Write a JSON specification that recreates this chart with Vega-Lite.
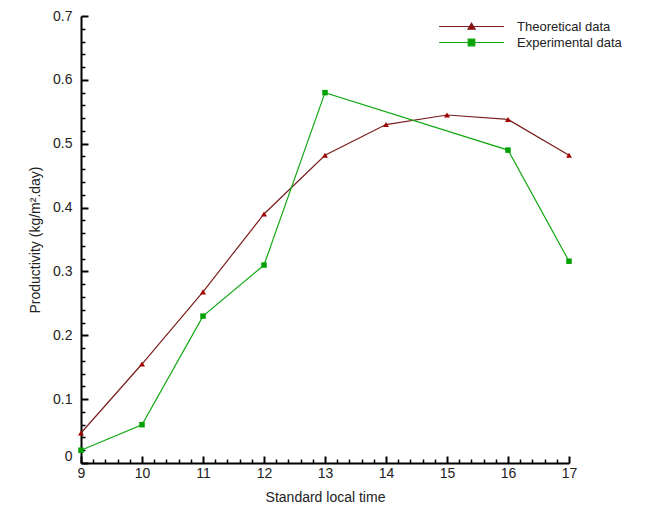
{
  "$schema": "https://vega.github.io/schema/vega-lite/v6.json",
  "width": 488,
  "height": 447,
  "autosize": {"type": "none"},
  "padding": {"left": 81, "top": 16, "right": 76, "bottom": 50},
  "background": "white",
  "config": {
    "view": {"stroke": null},
    "font": "Liberation Sans"
  },
  "data": {
    "values": [
      {"time": 9, "value": 0.047, "series": "Theoretical data"},
      {"time": 10, "value": 0.155, "series": "Theoretical data"},
      {"time": 11, "value": 0.268, "series": "Theoretical data"},
      {"time": 12, "value": 0.39, "series": "Theoretical data"},
      {"time": 13, "value": 0.482, "series": "Theoretical data"},
      {"time": 14, "value": 0.53, "series": "Theoretical data"},
      {"time": 15, "value": 0.545, "series": "Theoretical data"},
      {"time": 16, "value": 0.538, "series": "Theoretical data"},
      {"time": 17, "value": 0.482, "series": "Theoretical data"},
      {"time": 9, "value": 0.02, "series": "Experimental data"},
      {"time": 10, "value": 0.06, "series": "Experimental data"},
      {"time": 11, "value": 0.23, "series": "Experimental data"},
      {"time": 12, "value": 0.31, "series": "Experimental data"},
      {"time": 13, "value": 0.58, "series": "Experimental data"},
      {"time": 16, "value": 0.49, "series": "Experimental data"},
      {"time": 17, "value": 0.316, "series": "Experimental data"}
    ]
  },
  "resolve": {"axis": {"x": "independent", "y": "independent"}},
  "layer": [
    {
      "mark": {"type": "line", "strokeWidth": 1.2},
      "encoding": {
        "x": {
          "field": "time", "type": "quantitative",
          "scale": {"domain": [9, 17], "nice": false, "zero": false},
          "axis": {
            "orient": "bottom",
            "title": "Standard local time",
            "titleFont": "Liberation Sans", "titleFontSize": 14, "titleFontWeight": "normal", "titleColor": "#222",
            "titlePadding": 10,
            "values": [9, 10, 11, 12, 13, 14, 15, 16, 17],
            "format": "d",
            "labelFontSize": 14, "labelColor": "#222", "labelFlush": false,
            "grid": false, "ticks": false,
            "domainColor": "black", "domainWidth": 2,
            "labelPadding": 3
          }
        },
        "y": {
          "field": "value", "type": "quantitative",
          "scale": {"domain": [0, 0.7], "nice": false},
          "axis": {
            "orient": "left",
            "title": "Productivity (kg/m².day)",
            "titleFont": "Liberation Sans", "titleFontSize": 14, "titleFontWeight": "normal", "titleColor": "#222",
            "titlePadding": 10,
            "values": [0, 0.1, 0.2, 0.3, 0.4, 0.5, 0.6, 0.7],
            "labelExpr": "datum.value === 0 ? '0' : format(datum.value, '.1f')",
            "labelFontSize": 14, "labelColor": "#222", "labelFlush": false,
            "labelBaseline": {"condition": {"test": "datum.value === 0", "value": "bottom"}, "value": "middle"},
            "grid": false, "ticks": false,
            "domainColor": "black", "domainWidth": 2,
            "labelPadding": 9
          }
        },
        "stroke": {
          "field": "series", "type": "nominal",
          "scale": {"domain": ["Theoretical data", "Experimental data"], "range": ["#7a1f1f", "#10a810"]},
          "legend": {
            "title": null,
            "orient": "none",
            "legendX": 384,
            "legendY": 4,
            "symbolSize": 36,
            "labelFontSize": 13,
            "labelColor": "#222",
            "labelOffset": 39,
            "rowPadding": 2,
            "encode": {
              "symbols": {
                "update": {
                  "shape": {"signal": "datum.value === 'Theoretical data' ? 'M-10.8,0H10.8M-1.2,0.9L0,-1.1L1.2,0.9Z' : 'M-10.8,0H10.8M-1.1,-1.1H1.1V1.1H-1.1Z'"},
                  "fill": {"signal": "datum.value === 'Theoretical data' ? '#a00000' : '#00a000'"},
                  "strokeWidth": {"value": 1.2}
                }
              }
            }
          }
        }
      }
    },
    {
      "transform": [{"filter": "datum.series === 'Theoretical data'"}],
      "mark": {"type": "point", "filled": true, "size": 35, "opacity": 1, "shape": "triangle-up", "color": "#a00000"},
      "encoding": {
        "x": {
          "field": "time", "type": "quantitative",
          "axis": {
            "orient": "bottom", "title": null, "labels": false, "domain": false, "grid": false,
            "values": [9, 10, 11, 12, 13, 14, 15, 16, 17],
            "tickColor": "black", "tickWidth": 2, "tickSize": 7, "offset": -7
          }
        },
        "y": {
          "field": "value", "type": "quantitative",
          "axis": {
            "orient": "left", "title": null, "labels": false, "domain": false, "grid": false,
            "values": [0, 0.1, 0.2, 0.3, 0.4, 0.5, 0.6, 0.7],
            "tickColor": "black", "tickWidth": 2, "tickSize": 7, "offset": -7
          }
        }
      }
    },
    {
      "transform": [{"filter": "datum.series === 'Experimental data'"}],
      "mark": {"type": "point", "filled": true, "size": 30, "opacity": 1, "shape": "square", "color": "#00a000"},
      "encoding": {
        "x": {
          "field": "time", "type": "quantitative",
          "axis": {
            "orient": "bottom", "title": null, "labels": false, "domain": false, "grid": false,
            "values": [9.2,9.4,9.6,9.8,10.2,10.4,10.6,10.8,11.2,11.4,11.6,11.8,12.2,12.4,12.6,12.8,13.2,13.4,13.6,13.8,14.2,14.4,14.6,14.8,15.2,15.4,15.6,15.8,16.2,16.4,16.6,16.8],
            "tickColor": "black", "tickWidth": 1.5, "tickSize": 4, "offset": -4
          }
        },
        "y": {
          "field": "value", "type": "quantitative",
          "axis": {
            "orient": "left", "title": null, "labels": false, "domain": false, "grid": false,
            "values": [0.02,0.04,0.06,0.08,0.12,0.14,0.16,0.18,0.22,0.24,0.26,0.28,0.32,0.34,0.36,0.38,0.42,0.44,0.46,0.48,0.52,0.54,0.56,0.58,0.62,0.64,0.66,0.68],
            "tickColor": "black", "tickWidth": 1.5, "tickSize": 4, "offset": -4
          }
        }
      }
    }
  ]
}
